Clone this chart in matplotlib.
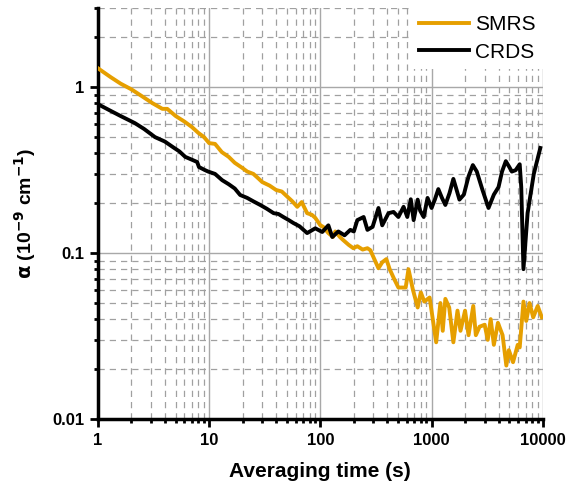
import matplotlib
matplotlib.use('Agg')
import matplotlib.pyplot as plt
from matplotlib.ticker import LogLocator, NullFormatter, FixedLocator, FixedFormatter

plt.rcParams['font.family'] = ['Liberation Sans', 'DejaVu Sans']

# SMRS (orange)
smrs_t = [1, 1.3, 1.6, 2, 2.5, 3.1, 3.8, 4.2, 5, 6, 7, 8, 9, 10, 11.3, 13, 15, 17, 20, 22,
          25, 28, 30, 35, 40, 45, 50, 56, 62, 68, 76, 84, 90, 100, 106, 118, 130, 136, 150, 160,
          180, 198, 215, 240, 265, 282, 295, 333, 360, 392, 420, 460, 503, 585, 620, 680, 750, 800, 860, 960,
          1100, 1200, 1260, 1330, 1440, 1570, 1710, 1820, 2000, 2150, 2370, 2500, 2700, 3000, 3200, 3400, 3630, 3950, 4350, 4700,
          4950, 5400, 5950, 6200, 6700, 7100, 7600, 8200, 9000, 9800]
smrs_a = [1.30, 1.15, 1.05, 0.97, 0.88, 0.80, 0.74, 0.74, 0.67, 0.62, 0.575, 0.53, 0.50, 0.46, 0.455, 0.406, 0.38, 0.35, 0.325, 0.31,
          0.30, 0.28, 0.268, 0.255, 0.24, 0.235, 0.22, 0.205, 0.19, 0.203, 0.174, 0.17, 0.163, 0.147, 0.144, 0.132, 0.125, 0.135, 0.125, 0.12,
          0.112, 0.107, 0.11, 0.105, 0.107, 0.104, 0.097, 0.081, 0.088, 0.092, 0.08, 0.07, 0.062, 0.062, 0.08, 0.06, 0.047, 0.058, 0.051, 0.054,
          0.029, 0.050, 0.034, 0.053, 0.047, 0.029, 0.045, 0.034, 0.045, 0.032, 0.048, 0.032, 0.036, 0.037, 0.030, 0.040, 0.028, 0.038, 0.032, 0.021,
          0.026, 0.022, 0.028, 0.027, 0.051, 0.039, 0.050, 0.041, 0.048, 0.041]

# CRDS (black)
crds_t = [1, 1.3, 1.6, 2.15, 2.6, 3.26, 4, 4.73, 5.4, 6.1, 6.7, 7.8, 8.1, 9.2, 9.8, 11.3, 13.1, 15, 17, 19,
          22, 25, 28.8, 33, 38, 42, 46.5, 52, 57, 65, 76, 90, 104, 118, 128, 145, 165, 186, 200, 215,
          245, 265, 295, 333, 360, 410, 455, 503, 560, 605, 650, 690, 750, 790, 850, 920, 1000, 1070, 1150, 1240,
          1330, 1450, 1570, 1680, 1780, 1950, 2150, 2350, 2550, 2870, 3250, 3630, 4000, 4300, 4650, 5000, 5270, 5700, 6200, 6400,
          6700, 7300, 8300, 9500]
crds_a = [0.79, 0.72, 0.67, 0.607, 0.56, 0.50, 0.47, 0.435, 0.41, 0.38, 0.37, 0.354, 0.33, 0.316, 0.31, 0.30, 0.275, 0.26, 0.245, 0.224,
          0.215, 0.205, 0.195, 0.185, 0.174, 0.172, 0.165, 0.158, 0.152, 0.145, 0.132, 0.141, 0.134, 0.147, 0.125, 0.135, 0.128, 0.138, 0.135, 0.158,
          0.165, 0.138, 0.144, 0.187, 0.147, 0.174, 0.177, 0.165, 0.19, 0.165, 0.211, 0.158, 0.21, 0.18, 0.165, 0.215, 0.187, 0.21, 0.243, 0.215,
          0.195, 0.23, 0.28, 0.24, 0.21, 0.225, 0.29, 0.339, 0.31, 0.24, 0.187, 0.225, 0.25, 0.31, 0.358, 0.33, 0.31, 0.316, 0.343, 0.25,
          0.08, 0.174, 0.30, 0.43]

x_ticks = [1, 10, 100, 1000, 10000]
x_labels = ['1', '10', '100', '1000', '10000']
y_ticks = [0.01, 0.1, 1]
y_labels = ['0.01', '0.1', '1']

fig = plt.figure(figsize=(5.66, 4.87), dpi=100)
ax = fig.add_axes([0.173, 0.1396, 0.786, 0.844])

ax.plot(smrs_t, smrs_a, color='#E69F00', lw=2.8, label='SMRS', zorder=3)
ax.plot(crds_t, crds_a, color='black', lw=2.8, label='CRDS', zorder=3)

ax.set_xscale('log')
ax.set_yscale('log')
ax.set_xlim(1, 10000)
ax.set_ylim(0.01, 3)

ax.xaxis.set_major_locator(FixedLocator(x_ticks))
ax.xaxis.set_major_formatter(FixedFormatter(x_labels))
ax.yaxis.set_major_locator(FixedLocator(y_ticks))
ax.yaxis.set_major_formatter(FixedFormatter(y_labels))
ax.xaxis.set_minor_locator(LogLocator(base=10, subs=range(2, 10), numticks=20))
ax.yaxis.set_minor_locator(LogLocator(base=10, subs=range(2, 10), numticks=20))
ax.xaxis.set_minor_formatter(NullFormatter())
ax.yaxis.set_minor_formatter(NullFormatter())

ax.grid(which='major', color='#a8a8a8', lw=1, ls='-', zorder=0)
ax.grid(which='minor', color='#a0a0a0', lw=0.9, ls=(0, (5, 4)), zorder=0)
ax.set_axisbelow(True)

for s in ['top', 'right']:
    ax.spines[s].set_visible(False)
for s in ['left', 'bottom']:
    ax.spines[s].set_linewidth(2.5)

ax.tick_params(which='major', direction='out', length=6, width=2, labelsize=12, pad=4)
ax.tick_params(which='minor', direction='out', length=3, width=2)
for lbl in ax.get_xticklabels() + ax.get_yticklabels():
    lbl.set_fontweight('bold')

ax.set_xlabel('Averaging time (s)', fontsize=15, fontweight='bold', labelpad=10)
ax.set_ylabel(r'$\mathbf{\alpha}$ (10$^{\mathbf{-9}}$ cm$^{\mathbf{-1}}$)', fontsize=14,
              fontweight='bold', labelpad=10)

leg = ax.legend(loc='upper right', fontsize=15, frameon=True, fancybox=False,
                handlelength=2.4, handletextpad=0.3, borderaxespad=0.0,
                labelspacing=0.4, borderpad=0.35)
leg.get_frame().set_edgecolor('none')
leg.get_frame().set_facecolor('white')
leg.get_frame().set_alpha(1)

fig.savefig('out.png', dpi=100)
